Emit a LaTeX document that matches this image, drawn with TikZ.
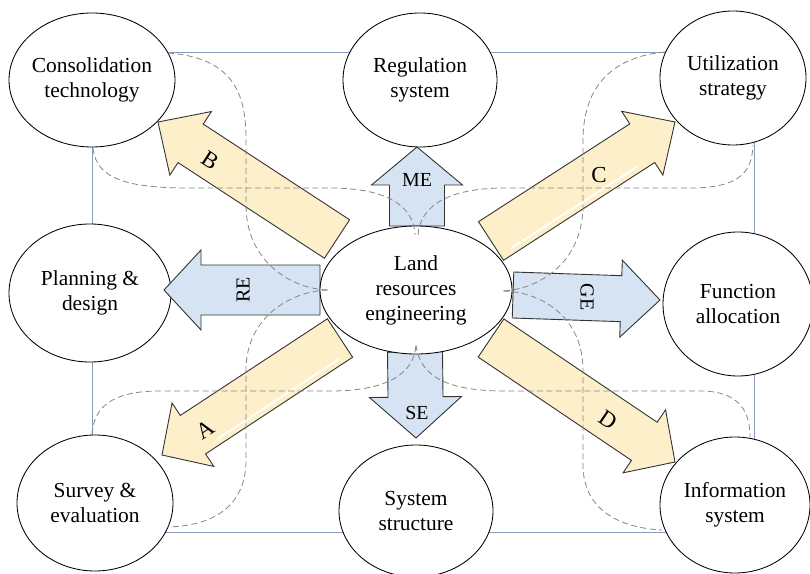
\documentclass[tikz,border=0pt]{standalone}
\usepackage{fontspec}
\setmainfont{Liberation Serif}
\usetikzlibrary{calc,shapes.geometric}
\definecolor{bluefill}{HTML}{D6E3F2}
\definecolor{yelfill}{HTML}{FCEFC9}
\definecolor{framecol}{HTML}{8A9CBD}
\definecolor{dashcol}{HTML}{858585}
\definecolor{edgecol}{HTML}{333333}
% style, tail, tip, half shaft width, half head width, head length
\newcommand{\fatarrow}[6]{%
  \coordinate (hb) at ($(#3)!#6!(#2)$);
  \draw[#1] ($(#2)!#4!90:(#3)$) -- ($(hb)!#4!90:(#3)$) -- ($(hb)!#5!90:(#3)$)
    -- (#3) -- ($(hb)!#5!-90:(#3)$) -- ($(hb)!#4!-90:(#3)$) -- ($(#2)!#4!-90:(#3)$) -- cycle;
}
% glossy highlight: tail, tip, side angle
\newcommand{\gloss}[3]{%
  \coordinate (g1) at ($(#1)!0.06!(#2)$);
  \coordinate (g2) at ($(#1)!0.74!(#2)$);
  \draw[white, line width=1.8bp, line cap=round] ($(g1)!17bp!#3:(#2)$) -- ($(g2)!17bp!#3:(#2)$);
}
\begin{document}
\begin{tikzpicture}[x=1bp,y=-1bp,
  font=\fontsize{21.5}{25}\selectfont,
  bubble/.style={draw=black, line width=0.85bp, fill=white, ellipse, inner sep=0pt, align=center},
  bluearrow/.style={draw=edgecol, line width=0.9bp, fill=bluefill, line join=miter},
  yelarrow/.style={draw=edgecol, line width=0.9bp, fill=yelfill, line join=miter},
  frameline/.style={draw=framecol, line width=0.9bp},
  link/.style={draw=dashcol, dash pattern=on 6bp off 3.5bp, line width=0.8bp},
  arrlabel/.style={inner sep=0pt, font=\fontsize{20}{22}\selectfont},
  letlabel/.style={inner sep=0pt, font=\fontsize{23}{25}\selectfont}]
\useasboundingbox (0,0) rectangle (810,574);
\draw[frameline] (92,52) rectangle (754,532);

% outer ellipses
\node[bubble, minimum width=166bp, minimum height=134bp, inner xsep=-3bp] (cons) at (92,80) {Consolidation\\technology};
\node[bubble, minimum width=154bp, minimum height=134bp] (reg) at (420,80) {Regulation\\system};
\node[bubble, minimum width=146bp, minimum height=134bp] (util) at (733,78) {Utilization\\strategy};
\node[bubble, minimum width=162bp, minimum height=138bp] (plan) at (90,293) {Planning \&\\design};
\node[bubble, minimum width=150bp, minimum height=144bp] (func) at (738,304) {Function\\allocation};
\node[bubble, minimum width=156bp, minimum height=136bp] (surv) at (95,503) {Survey \&\\evaluation};
\node[bubble, minimum width=154bp, minimum height=132bp] (syst) at (416,511) {System\\structure};
\node[bubble, minimum width=150bp, minimum height=136bp] (info) at (735,505) {Information\\system};

% arrow end points
\coordinate (meT) at (417,226);  \coordinate (meP) at (417,147);
\coordinate (seT) at (415,352);  \coordinate (seP) at (416,438);
\coordinate (reT) at (320,290);  \coordinate (reP) at (164,290);
\coordinate (geT) at (513,295);  \coordinate (geP) at (660,300);
\coordinate (bT) at (337,239);   \coordinate (bP) at (158,122);
\coordinate (cT) at (491,241);   \coordinate (cP) at (675,122);
\coordinate (aT) at (340,338);   \coordinate (aP) at (162,455);
\coordinate (dT) at (491,338);   \coordinate (dP) at (675,462);

\fatarrow{bluearrow}{meT}{meP}{27.5bp}{45.5bp}{38bp}
\fatarrow{bluearrow}{seT}{seP}{27.5bp}{46bp}{41bp}
\fatarrow{bluearrow}{reT}{reP}{25bp}{40bp}{37bp}
\fatarrow{bluearrow}{geT}{geP}{23bp}{38.5bp}{39bp}
\fatarrow{yelarrow}{bT}{bP}{23bp}{38bp}{39bp}
\fatarrow{yelarrow}{cT}{cP}{23bp}{38bp}{39bp}
\fatarrow{yelarrow}{aT}{aP}{23bp}{38bp}{37bp}
\fatarrow{yelarrow}{dT}{dP}{23bp}{38bp}{37bp}
\gloss{cT}{cP}{-90}
\gloss{aT}{aP}{90}

% centre
\node[bubble, minimum width=192bp, minimum height=128bp] (land) at (416,290) {Land\\resources\\engineering};

% arrow labels
\node[arrlabel] (meL) at (417,180) {ME};
\node[arrlabel] (seL) at (417,413) {SE};
\node[arrlabel, rotate=90] (reL) at (243,290) {RE};
\node[arrlabel, rotate=-90] (geL) at (587,297) {GE};
\node[letlabel, rotate=-33] (bL) at (210,160) {B};
\node[letlabel] (cL) at (599,175) {C};
\node[letlabel, rotate=33] (aL) at (205,430) {A};
\node[letlabel, rotate=-34] (dL) at (608,420) {D};

% dashed links
\coordinate (k1) at (168,53);  \coordinate (k2) at (93,148);
\coordinate (k3) at (665,52);  \coordinate (k4) at (753,145);
\coordinate (k5) at (92,434);  \coordinate (k6) at (167,527);
\coordinate (k7) at (750,437); \coordinate (k8) at (662,530);
\coordinate (cl) at (328,290); \coordinate (cr) at (503,291);
\coordinate (ct1) at (415,235); \coordinate (ct2) at (418,235);
\coordinate (cb) at (416,345);
\draw[link] (k1) .. controls (238,58) and (246,100) .. (246,140) -- (246,205) .. controls (246,262) and (292,289) .. (cl);
\draw[link] (cl) .. controls (290,291) and (246,318) .. (246,370) -- (246,460) .. controls (246,505) and (215,526) .. (k6);
\draw[link] (k2) .. controls (96,180) and (130,188) .. (190,188) -- (330,188) .. controls (385,188) and (414,205) .. (ct1);
\draw[link] (ct2) .. controls (420,205) and (450,188) .. (505,188) -- (690,188) .. controls (740,188) and (752,172) .. (k4);
\draw[link] (k5) .. controls (94,405) and (115,391) .. (160,391) -- (330,391) .. controls (385,391) and (414,375) .. (cb);
\draw[link] (cb) .. controls (420,378) and (450,391) .. (505,391) -- (700,391) .. controls (738,391) and (750,410) .. (k7);
\draw[link] (k3) .. controls (600,58) and (583,100) .. (583,140) -- (583,205) .. controls (583,262) and (540,289) .. (cr);
\draw[link] (cr) .. controls (545,292) and (583,320) .. (583,370) -- (583,465) .. controls (583,510) and (620,528) .. (k8);
\end{tikzpicture}
\end{document}
